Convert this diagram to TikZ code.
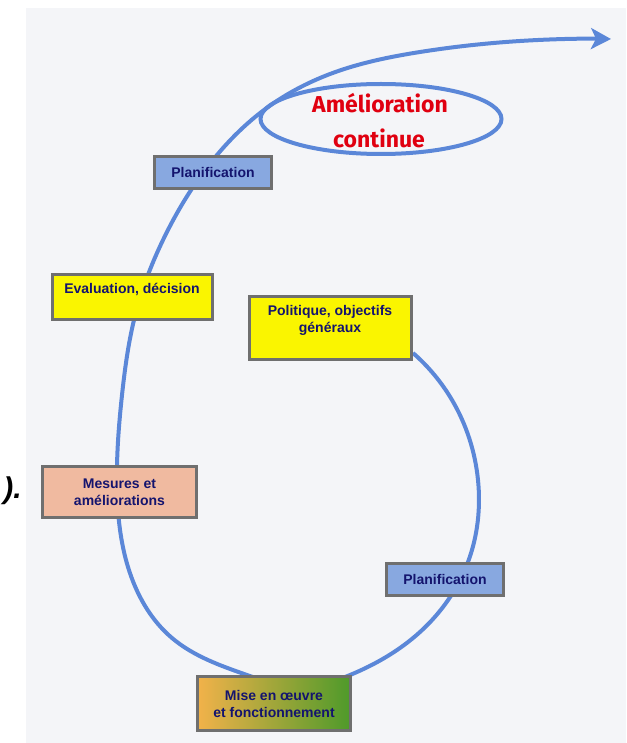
\documentclass[tikz,border=0pt]{standalone}
\usepackage{fontspec}
\setmainfont{Liberation Sans}
\newfontfamily\amfont{Fira Sans}
\usetikzlibrary{arrows.meta,shapes.geometric,hobby}
\definecolor{pagebg}{HTML}{F4F5F8}
\definecolor{curveblue}{HTML}{5B87D8}
\definecolor{boxborder}{HTML}{6F6F6F}
\definecolor{planblue}{HTML}{88A8E0}
\definecolor{yel}{HTML}{FAF500}
\definecolor{salmon}{HTML}{F0BAA0}
\definecolor{navy}{HTML}{14146E}
\definecolor{amred}{HTML}{E00010}
\definecolor{morange}{HTML}{F2B24A}
\definecolor{myellow}{HTML}{E6E21E}
\definecolor{mgreen}{HTML}{4E9A2A}
\begin{document}
\begin{tikzpicture}[x=1pt,y=-1pt,
  curve/.style={draw=curveblue,line width=4pt},
  box/.style={draw=boxborder,line width=3pt,inner sep=0pt,text=navy,
    font=\fontsize{14}{17}\selectfont\bfseries,align=center},
  lbl/.style={inner sep=0pt,text=navy,font=\fontsize{14}{17}\selectfont\bfseries,align=center},
  amtxt/.style={inner sep=0pt,text=amred,font=\amfont\fontsize{23}{28}\selectfont\bfseries}]
\useasboundingbox (0,0) rectangle (626,743);
\fill[pagebg] (26,8) rectangle (626,743);
% the spiral
\draw[curve,use Hobby shortcut,-{Stealth[length=20pt,width=21pt,inset=5pt]}]
  (413,353) .. (452,400) .. (478,480) .. (468,562) .. (420,632) .. (350,675)
  .. (298,687) .. (247,675) .. (172,638) .. (128,567) .. (117,490)
  .. (122,395) .. (136,312) .. (163,240) .. (217,155) .. (264,110)
  .. (330,74) .. (420,52) .. (520,41) .. (611,39);
% ellipse
\node[draw=curveblue,line width=4pt,ellipse,minimum width=241pt,minimum height=70pt,inner sep=0pt] (amel) at (381,119) {};
\node[amtxt,anchor=base] (am1) at (380,113) {Amélioration};
\node[amtxt,anchor=base] (am2) at (379,148) {continue};
% boxes
\node[box,fill=planblue,minimum width=117pt,minimum height=32pt] (plan1) at (213,172.5) {Planification};
\node[box,fill=yel,minimum width=160pt,minimum height=45pt] (eval) at (132.5,297) {};
\node[lbl,anchor=north] (evalt) at (132,283) {Evaluation, décision};
\node[box,fill=yel,minimum width=162pt,minimum height=63pt] (pol) at (330.5,328) {};
\node[lbl,anchor=north] (polt) at (330,305) {Politique, objectifs\\généraux};
\node[box,fill=salmon,minimum width=154pt,minimum height=51pt] (mes) at (119.5,492) {Mesures et\\améliorations};
\node[box,fill=planblue,minimum width=117pt,minimum height=32pt] (plan2) at (445,579.5) {Planification};
\node[box,left color=morange,middle color=myellow,right color=mgreen,minimum width=153pt,minimum height=54pt] (mise) at (274,703.5) {Mise en œuvre\\et fonctionnement};
% cut-off fragment at left edge
\node[anchor=base east,inner sep=0pt,font=\fontsize{30}{30}\selectfont\bfseries\itshape] (frag) at (22,498) {).};
\end{tikzpicture}
\end{document}
